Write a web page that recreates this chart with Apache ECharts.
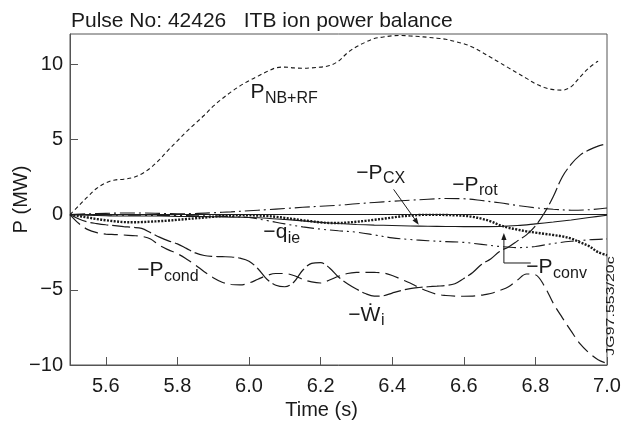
<!DOCTYPE html>
<html>
<head>
<meta charset="utf-8">
<script src="https://cdn.jsdelivr.net/npm/echarts@6/dist/echarts.min.js"></script>
<style>
  html, body { margin: 0; padding: 0; background: #fff; }
  #chart { width: 621px; height: 425px; }
</style>
</head>
<body>
<div id="chart"></div>
<script>
// Time bases (s)
const timeFine = [5.500,5.525,5.550,5.575,5.600,5.625,5.650,5.675,5.700,5.725,5.750,5.775,5.800,5.825,5.850,5.875,5.900,5.925,5.950,5.975,
  6.000,6.025,6.050,6.075,6.100,6.125,6.150,6.175,6.200,6.225,6.250,6.275,6.300,6.325,6.350,6.375,6.400,6.425,6.450,6.475,
  6.500,6.525,6.550,6.575,6.600,6.625,6.650,6.675,6.700,6.725,6.750,6.775,6.800,6.825,6.850,6.875,6.900,6.925,6.950,6.975,7.000];
const timeCoarse = [5.50,5.55,5.60,5.65,5.70,5.75,5.80,5.85,5.90,5.95,6.00,6.05,6.10,6.15,6.20,6.25,6.30,6.35,6.40,6.45,
  6.50,6.55,6.60,6.65,6.70,6.75,6.80,6.85,6.90,6.95,7.00];

// Power terms (MW)
const pNbRf = [0,0.6,1.2,1.75,2.1,2.3,2.35,2.45,2.7,3.1,3.65,4.3,4.9,5.5,6.05,6.6,7.2,7.7,8.15,8.55,
  8.9,9.2,9.5,9.75,9.8,9.75,9.72,9.75,9.8,9.9,10.2,10.75,11.15,11.45,11.7,11.8,11.88,11.9,11.87,11.83,
  11.78,11.72,11.65,11.5,11.35,11.12,10.8,10.45,10.1,9.75,9.4,9.05,8.7,8.45,8.3,8.27,8.5,9.15,9.75,10.2,null];
const wDotI = [0,-0.3,-0.5,-0.6,-0.68,-0.74,-0.8,-0.85,-0.92,-1.2,-1.5,-1.75,-1.95,-2.25,-2.55,-2.72,-2.78,-2.8,-2.82,-2.9,
  -3.1,-3.6,-4.3,-4.7,-4.8,-4.5,-3.7,-3.25,-3.2,-3.55,-4.15,-4.6,-4.95,-5.25,-5.42,-5.4,-5.22,-5.05,-4.92,-4.85,
  -4.8,-4.76,-4.72,-4.6,-4.25,-3.85,-3.3,-2.95,-2.45,-2.15,-1.75,-1.35,-0.75,0.1,1.2,2.5,3.35,3.95,4.3,4.55,4.7];
const pCond = [0,-0.6,-1.0,-1.2,-1.3,-1.33,-1.36,-1.4,-1.45,-1.62,-2.05,-2.35,-2.6,-2.95,-3.35,-3.8,-4.2,-4.5,-4.65,-4.68,
  -4.55,-4.3,-4.05,-3.92,-3.92,-4.05,-4.3,-4.48,-4.55,-4.35,-4.1,-3.92,-3.85,-3.84,-3.85,-3.88,-4.05,-4.3,-4.55,-4.85,
  -5.1,-5.3,-5.38,-5.42,-5.43,-5.42,-5.35,-5.25,-5.05,-4.8,-4.35,-3.95,-4.0,-4.75,-5.9,-6.85,-7.75,-8.6,-9.2,-9.65,-9.9];
const pConv = [0,-0.1,-0.2,-0.3,-0.38,-0.45,-0.5,-0.51,-0.5,-0.47,-0.44,-0.4,-0.35,-0.3,-0.25,-0.2,-0.15,-0.1,-0.07,-0.05,
  -0.05,-0.07,-0.1,-0.15,-0.22,-0.3,-0.38,-0.45,-0.52,-0.56,-0.56,-0.53,-0.48,-0.42,-0.35,-0.28,-0.2,-0.12,-0.07,-0.03,
  -0.02,-0.02,-0.03,-0.05,-0.08,-0.15,-0.28,-0.45,-0.7,-0.88,-1.0,-1.12,-1.2,-1.28,-1.36,-1.45,-1.6,-1.85,-2.1,-2.5,-2.7];
const pRot = [0,0.05,0.08,0.1,0.1,0.08,0.05,0.07,0.12,0.18,0.25,0.32,0.4,0.48,0.55,0.62,0.72,0.8,0.88,0.95,
  1.02,1.07,1.05,0.93,0.78,0.6,0.45,0.35,0.29,0.32,0.44];
const pCx = [0,-0.05,-0.08,-0.1,-0.1,-0.1,-0.12,-0.13,-0.15,-0.17,-0.2,-0.25,-0.33,-0.42,-0.52,-0.6,-0.66,-0.7,-0.73,-0.76,
  -0.78,-0.79,-0.8,-0.8,-0.79,-0.73,-0.62,-0.5,-0.36,-0.2,-0.05];
const qIe = [0,-0.02,-0.03,-0.04,-0.05,-0.06,-0.07,-0.08,-0.1,-0.13,-0.2,-0.4,-0.62,-0.82,-0.97,-1.08,-1.17,-1.35,-1.55,-1.66,
  -1.74,-1.8,-1.85,-1.98,-2.12,-2.2,-2.12,-1.92,-1.78,-1.68,-1.62];

// Axis ticks
const xTicks = [5.6,5.8,6.0,6.2,6.4,6.6,6.8,7.0];
const yTicks = [-10,-5,0,5,10];

// Curve annotations: [main symbol, subscript, anchor (time, MW)]
const curveLabels = [
  ['P', 'NB+RF', [6.043, 8.13]],
  ['\u2212P', 'CX', [6.373, 2.77]],
  ['\u2212P', 'rot', [6.641, 1.97]],
  ['\u2212q', 'ie', [6.107, -1.2]],
  ['\u2212P', 'cond', [5.761, -3.73]],
  ['\u2212P', 'conv', [6.848, -3.5]],
  ['\u2212\u1E86', 'i', [6.367, -6.67]]
];
// Pointer paths (time, MW); the last point is the arrow tip
const cxPointer = [[6.404, 1.67], [6.474, -0.67]];
const convPointer = [[6.787, -3.22], [6.712, -3.22], [6.712, -1.22]];

const FONT = '"Liberation Sans", Arial, Helvetica, sans-serif';
const INK = '#1a1a1a';
const FRAME = '#555';

const chart = echarts.init(document.getElementById('chart'), null, { renderer: 'canvas' });

function pairs(ts, vs) { return ts.map((t, i) => [t, vs[i]]); }
function curve(name, ts, vs, dash, width, extra) {
  return Object.assign({
    name, type: 'line', data: pairs(ts, vs), symbol: 'none', showSymbol: false,
    smooth: 0.35, silent: true, animation: false,
    lineStyle: { color: INK, width: width, type: dash, cap: 'butt' }
  }, extra || {});
}
const minus = v => (v < 0 ? '\u2212' + Math.abs(v) : String(v));

chart.setOption({
  animation: false,
  backgroundColor: '#fff',
  title: {
    text: 'Pulse No: 42426   ITB ion power balance',
    left: 66, top: 6,
    textStyle: { fontFamily: FONT, fontSize: 21, fontWeight: 'normal', color: INK }
  },
  grid: {
    left: 70, right: 14, top: 34, bottom: 60, show: true, borderColor: FRAME, borderWidth: 1,
    containLabel: false, outerBoundsMode: 'none'
  },
  xAxis: {
    type: 'value', min: 5.5, max: 7.0,
    axisLine: { show: true, onZero: false, lineStyle: { color: FRAME, width: 1 } },
    axisTick: { show: true, inside: true, length: 8, customValues: xTicks, lineStyle: { color: FRAME } },
    axisLabel: { customValues: xTicks, formatter: v => v.toFixed(1), fontFamily: FONT, fontSize: 20, color: INK, margin: 11 },
    splitLine: { show: false },
    name: 'Time (s)', nameLocation: 'middle', nameGap: 35, nameMoveOverlap: false,
    nameTextStyle: { fontFamily: FONT, fontSize: 20, color: INK, padding: [0, 34, 0, 0] }
  },
  yAxis: {
    type: 'value', min: -10, max: 12,
    axisLine: { show: true, onZero: false, lineStyle: { color: FRAME, width: 1 } },
    axisTick: { show: true, inside: true, length: 8, customValues: yTicks, lineStyle: { color: FRAME } },
    axisLabel: { customValues: yTicks, formatter: minus, fontFamily: FONT, fontSize: 20, color: INK, margin: 7 },
    splitLine: { show: false },
    name: 'P (MW)', nameLocation: 'middle', nameGap: 39, nameRotate: 90, nameMoveOverlap: false,
    nameTextStyle: { fontFamily: FONT, fontSize: 20, color: INK }
  },
  series: [
    curve('P_NB+RF', timeFine, pNbRf, [4, 3], 1.1),
    curve('-P_rot', timeCoarse, pRot, [15, 4, 2, 4], 1.1),
    curve('-P_CX', timeCoarse, pCx, 'solid', 1.1, {
      markLine: {
        silent: true, symbol: 'none', animation: false, label: { show: false },
        lineStyle: { color: INK, width: 1.1, type: 'solid' },
        data: [{ yAxis: 0 }]
      }
    }),
    curve('-q_ie', timeCoarse, qIe, [13, 4, 2, 4, 2, 4], 1.1),
    curve('-P_conv', timeFine, pConv, [2, 1.4], 2.4),
    curve('-P_cond', timeFine, pCond, [14, 6], 1.2),
    curve('-dW_i/dt', timeFine, wDotI, [18, 4], 1.2)
  ]
});

// Annotations placed in data space
function px(p) { return chart.convertToPixel({ gridIndex: 0 }, p); }
function arrowHead(from, tip, len, half) {
  const dx = tip[0] - from[0], dy = tip[1] - from[1];
  const d = Math.hypot(dx, dy) || 1;
  const ux = dx / d, uy = dy / d;
  const bx = tip[0] - ux * len, by = tip[1] - uy * len;
  return { base: [bx, by], pts: [tip, [bx - uy * half, by + ux * half], [bx + uy * half, by - ux * half]] };
}
function pointer(path) {
  const p = path.map(px);
  const tip = p[p.length - 1], prev = p[p.length - 2];
  const head = arrowHead(prev, tip, 7, 2.6);
  const linePts = p.slice(0, -1).concat([head.base]);
  return [
    { type: 'polyline', silent: true, shape: { points: linePts }, style: { stroke: INK, lineWidth: 1, fill: null } },
    { type: 'polygon', silent: true, shape: { points: head.pts }, style: { fill: INK } }
  ];
}

const elems = [];
curveLabels.forEach(([main, sub, at]) => {
  const [x, y] = px(at);
  elems.push({
    type: 'text', silent: true, x: x, y: y,
    style: { text: main, font: '21px ' + FONT, fill: INK, align: 'right', textAlign: 'right', verticalAlign: 'middle', textVerticalAlign: 'middle' }
  });
  elems.push({
    type: 'text', silent: true, x: x + 0.5, y: y + 6,
    style: { text: sub, font: '16px ' + FONT, fill: INK, align: 'left', textAlign: 'left', verticalAlign: 'middle', textVerticalAlign: 'middle' }
  });
});
elems.push(...pointer(cxPointer), ...pointer(convPointer));
// Figure reference code, set vertically along the right edge
elems.push({
  type: 'text', silent: true, x: 611, y: 306, rotation: Math.PI / 2, scaleX: 1.45,
  style: { text: 'JG97.553/20c', font: '11px ' + FONT, fill: INK, align: 'center', textAlign: 'center', verticalAlign: 'middle', textVerticalAlign: 'middle' }
});
chart.setOption({ graphic: { elements: elems } });
</script>
</body>
</html>
